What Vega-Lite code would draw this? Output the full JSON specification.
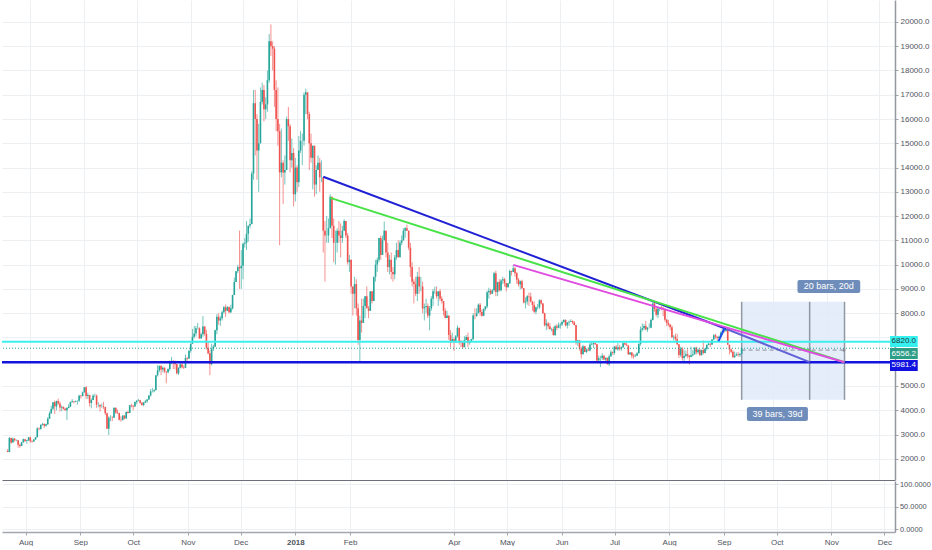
{
  "$schema": "https://vega.github.io/schema/vega-lite/v6.json",
  "description": "BTC daily candles with descending triangle trendlines and date-range tools",
  "padding": 0,
  "spacing": 0,
  "background": "#ffffff",
  "config": {
    "view": {"stroke": null},
    "axis": {
      "labelFont": "Liberation Sans",
      "labelFontSize": 8,
      "labelColor": "#50535e",
      "gridColor": "#edf0f3",
      "domainColor": "#a3a6af",
      "tickColor": "#a3a6af",
      "tickSize": 3,
      "labelPadding": 2,
      "labelOverlap": false,
      "labelBound": false,
      "labelFlush": false
    },
    "text": {"font": "Liberation Sans"}
  },
  "datasets": {
    "candles": [
      {"d":"2017-07-19","o":2320,"h":2400,"l":2270,"c":2280},
      {"d":"2017-07-20","o":2280,"h":2900,"l":2270,"c":2860},
      {"d":"2017-07-21","o":2860,"h":2870,"l":2620,"c":2670},
      {"d":"2017-07-22","o":2670,"h":2880,"l":2670,"c":2830},
      {"d":"2017-07-23","o":2830,"h":2850,"l":2710,"c":2760},
      {"d":"2017-07-24","o":2760,"h":2800,"l":2720,"c":2760},
      {"d":"2017-07-25","o":2760,"h":2770,"l":2460,"c":2580},
      {"d":"2017-07-26","o":2580,"h":2630,"l":2450,"c":2530},
      {"d":"2017-07-27","o":2530,"h":2700,"l":2520,"c":2680},
      {"d":"2017-07-28","o":2680,"h":2830,"l":2670,"c":2810},
      {"d":"2017-07-29","o":2810,"h":2810,"l":2700,"c":2730},
      {"d":"2017-07-30","o":2730,"h":2770,"l":2620,"c":2760},
      {"d":"2017-07-31","o":2760,"h":2900,"l":2740,"c":2880},
      {"d":"2017-08-01","o":2880,"h":2920,"l":2660,"c":2730},
      {"d":"2017-08-02","o":2730,"h":2760,"l":2670,"c":2710},
      {"d":"2017-08-03","o":2710,"h":2820,"l":2700,"c":2800},
      {"d":"2017-08-04","o":2800,"h":2900,"l":2780,"c":2890},
      {"d":"2017-08-05","o":2890,"h":3300,"l":2880,"c":3250},
      {"d":"2017-08-06","o":3250,"h":3290,"l":3170,"c":3230},
      {"d":"2017-08-07","o":3230,"h":3420,"l":3200,"c":3400},
      {"d":"2017-08-08","o":3400,"h":3480,"l":3370,"c":3440},
      {"d":"2017-08-09","o":3440,"h":3450,"l":3270,"c":3360},
      {"d":"2017-08-10","o":3360,"h":3450,"l":3330,"c":3420},
      {"d":"2017-08-11","o":3420,"h":3720,"l":3400,"c":3650},
      {"d":"2017-08-12","o":3650,"h":3950,"l":3640,"c":3870},
      {"d":"2017-08-13","o":3870,"h":4190,"l":3850,"c":4060},
      {"d":"2017-08-14","o":4060,"h":4330,"l":4000,"c":4330},
      {"d":"2017-08-15","o":4330,"h":4400,"l":3850,"c":4160},
      {"d":"2017-08-16","o":4160,"h":4400,"l":4000,"c":4380},
      {"d":"2017-08-17","o":4380,"h":4480,"l":4230,"c":4280},
      {"d":"2017-08-18","o":4280,"h":4370,"l":3950,"c":4110},
      {"d":"2017-08-19","o":4110,"h":4200,"l":3960,"c":4140},
      {"d":"2017-08-20","o":4140,"h":4160,"l":4030,"c":4060},
      {"d":"2017-08-21","o":4060,"h":4100,"l":3980,"c":4000},
      {"d":"2017-08-22","o":4000,"h":4130,"l":3600,"c":4090},
      {"d":"2017-08-23","o":4090,"h":4260,"l":4080,"c":4150},
      {"d":"2017-08-24","o":4150,"h":4360,"l":4130,"c":4340},
      {"d":"2017-08-25","o":4340,"h":4460,"l":4310,"c":4370},
      {"d":"2017-08-26","o":4370,"h":4380,"l":4280,"c":4350},
      {"d":"2017-08-27","o":4350,"h":4400,"l":4330,"c":4380},
      {"d":"2017-08-28","o":4380,"h":4400,"l":4230,"c":4390},
      {"d":"2017-08-29","o":4390,"h":4640,"l":4340,"c":4600},
      {"d":"2017-08-30","o":4600,"h":4630,"l":4480,"c":4580},
      {"d":"2017-08-31","o":4580,"h":4770,"l":4580,"c":4740},
      {"d":"2017-09-01","o":4740,"h":4950,"l":4730,"c":4950},
      {"d":"2017-09-02","o":4950,"h":4990,"l":4470,"c":4590},
      {"d":"2017-09-03","o":4590,"h":4720,"l":4460,"c":4630},
      {"d":"2017-09-04","o":4630,"h":4630,"l":4150,"c":4300},
      {"d":"2017-09-05","o":4300,"h":4490,"l":4080,"c":4420},
      {"d":"2017-09-06","o":4420,"h":4660,"l":4420,"c":4600},
      {"d":"2017-09-07","o":4600,"h":4690,"l":4540,"c":4600},
      {"d":"2017-09-08","o":4600,"h":4650,"l":4100,"c":4230},
      {"d":"2017-09-09","o":4230,"h":4330,"l":4120,"c":4230},
      {"d":"2017-09-10","o":4230,"h":4230,"l":3950,"c":4160},
      {"d":"2017-09-11","o":4160,"h":4280,"l":4100,"c":4160},
      {"d":"2017-09-12","o":4160,"h":4350,"l":4050,"c":4130},
      {"d":"2017-09-13","o":4130,"h":4130,"l":3800,"c":3880},
      {"d":"2017-09-14","o":3880,"h":3900,"l":3240,"c":3240},
      {"d":"2017-09-15","o":3240,"h":3750,"l":2980,"c":3700},
      {"d":"2017-09-16","o":3700,"h":3800,"l":3550,"c":3700},
      {"d":"2017-09-17","o":3700,"h":3760,"l":3550,"c":3690},
      {"d":"2017-09-18","o":3690,"h":4110,"l":3690,"c":4100},
      {"d":"2017-09-19","o":4100,"h":4120,"l":3850,"c":3910},
      {"d":"2017-09-20","o":3910,"h":4030,"l":3850,"c":3880},
      {"d":"2017-09-21","o":3880,"h":3900,"l":3580,"c":3610},
      {"d":"2017-09-22","o":3610,"h":3750,"l":3530,"c":3600},
      {"d":"2017-09-23","o":3600,"h":3810,"l":3570,"c":3780},
      {"d":"2017-09-24","o":3780,"h":3790,"l":3630,"c":3660},
      {"d":"2017-09-25","o":3660,"h":3950,"l":3660,"c":3930},
      {"d":"2017-09-26","o":3930,"h":3980,"l":3860,"c":3890},
      {"d":"2017-09-27","o":3890,"h":4220,"l":3890,"c":4210},
      {"d":"2017-09-28","o":4210,"h":4270,"l":4120,"c":4190},
      {"d":"2017-09-29","o":4190,"h":4210,"l":4000,"c":4160},
      {"d":"2017-09-30","o":4160,"h":4360,"l":4150,"c":4340},
      {"d":"2017-10-01","o":4340,"h":4400,"l":4250,"c":4400},
      {"d":"2017-10-02","o":4400,"h":4470,"l":4370,"c":4410},
      {"d":"2017-10-03","o":4410,"h":4430,"l":4260,"c":4310},
      {"d":"2017-10-04","o":4310,"h":4340,"l":4180,"c":4220},
      {"d":"2017-10-05","o":4220,"h":4350,"l":4160,"c":4320},
      {"d":"2017-10-06","o":4320,"h":4420,"l":4300,"c":4370},
      {"d":"2017-10-07","o":4370,"h":4460,"l":4300,"c":4440},
      {"d":"2017-10-08","o":4440,"h":4620,"l":4430,"c":4610},
      {"d":"2017-10-09","o":4610,"h":4870,"l":4560,"c":4780},
      {"d":"2017-10-10","o":4780,"h":4920,"l":4730,"c":4780},
      {"d":"2017-10-11","o":4780,"h":4870,"l":4740,"c":4830},
      {"d":"2017-10-12","o":4830,"h":5440,"l":4830,"c":5440},
      {"d":"2017-10-13","o":5440,"h":5860,"l":5390,"c":5640},
      {"d":"2017-10-14","o":5640,"h":5840,"l":5570,"c":5830},
      {"d":"2017-10-15","o":5830,"h":5840,"l":5450,"c":5680},
      {"d":"2017-10-16","o":5680,"h":5800,"l":5560,"c":5750},
      {"d":"2017-10-17","o":5750,"h":5770,"l":5530,"c":5600},
      {"d":"2017-10-18","o":5600,"h":5600,"l":5110,"c":5570},
      {"d":"2017-10-19","o":5570,"h":5730,"l":5520,"c":5700},
      {"d":"2017-10-20","o":5700,"h":6050,"l":5620,"c":6010},
      {"d":"2017-10-21","o":6010,"h":6200,"l":5900,"c":6010},
      {"d":"2017-10-22","o":6010,"h":6070,"l":5700,"c":5980},
      {"d":"2017-10-23","o":5980,"h":6050,"l":5680,"c":5900},
      {"d":"2017-10-24","o":5900,"h":5910,"l":5480,"c":5520},
      {"d":"2017-10-25","o":5520,"h":5770,"l":5450,"c":5750},
      {"d":"2017-10-26","o":5750,"h":5990,"l":5720,"c":5890},
      {"d":"2017-10-27","o":5890,"h":6000,"l":5730,"c":5770},
      {"d":"2017-10-28","o":5770,"h":5850,"l":5700,"c":5750},
      {"d":"2017-10-29","o":5750,"h":6300,"l":5740,"c":6150},
      {"d":"2017-10-30","o":6150,"h":6200,"l":6040,"c":6130},
      {"d":"2017-10-31","o":6130,"h":6470,"l":6110,"c":6450},
      {"d":"2017-11-01","o":6450,"h":6750,"l":6370,"c":6740},
      {"d":"2017-11-02","o":6740,"h":7350,"l":6740,"c":7030},
      {"d":"2017-11-03","o":7030,"h":7470,"l":6960,"c":7160},
      {"d":"2017-11-04","o":7160,"h":7480,"l":7040,"c":7380},
      {"d":"2017-11-05","o":7380,"h":7600,"l":7330,"c":7380},
      {"d":"2017-11-06","o":7380,"h":7420,"l":6940,"c":6960},
      {"d":"2017-11-07","o":6960,"h":7200,"l":6950,"c":7130},
      {"d":"2017-11-08","o":7130,"h":7880,"l":7030,"c":7450},
      {"d":"2017-11-09","o":7450,"h":7460,"l":7070,"c":7150},
      {"d":"2017-11-10","o":7150,"h":7320,"l":6500,"c":6580},
      {"d":"2017-11-11","o":6580,"h":6830,"l":6300,"c":6350},
      {"d":"2017-11-12","o":6350,"h":6480,"l":5450,"c":5900},
      {"d":"2017-11-13","o":5900,"h":6740,"l":5850,"c":6540},
      {"d":"2017-11-14","o":6540,"h":6700,"l":6440,"c":6620},
      {"d":"2017-11-15","o":6620,"h":7320,"l":6620,"c":7300},
      {"d":"2017-11-16","o":7300,"h":7960,"l":7130,"c":7850},
      {"d":"2017-11-17","o":7850,"h":8000,"l":7520,"c":7700},
      {"d":"2017-11-18","o":7700,"h":7880,"l":7480,"c":7790},
      {"d":"2017-11-19","o":7790,"h":8110,"l":7700,"c":8040},
      {"d":"2017-11-20","o":8040,"h":8300,"l":7980,"c":8240},
      {"d":"2017-11-21","o":8240,"h":8360,"l":7850,"c":8100},
      {"d":"2017-11-22","o":8100,"h":8300,"l":8100,"c":8250},
      {"d":"2017-11-23","o":8250,"h":8280,"l":8000,"c":8040},
      {"d":"2017-11-24","o":8040,"h":8350,"l":8000,"c":8200},
      {"d":"2017-11-25","o":8200,"h":8760,"l":8150,"c":8750},
      {"d":"2017-11-26","o":8750,"h":9470,"l":8750,"c":9290},
      {"d":"2017-11-27","o":9290,"h":9740,"l":9290,"c":9730},
      {"d":"2017-11-28","o":9730,"h":9990,"l":9650,"c":9900},
      {"d":"2017-11-29","o":9900,"h":11400,"l":9000,"c":9850},
      {"d":"2017-11-30","o":9850,"h":10600,"l":9000,"c":9950},
      {"d":"2017-12-01","o":9950,"h":10900,"l":9400,"c":10860},
      {"d":"2017-12-02","o":10860,"h":11100,"l":10700,"c":10900},
      {"d":"2017-12-03","o":10900,"h":11800,"l":10600,"c":11270},
      {"d":"2017-12-04","o":11270,"h":11620,"l":10950,"c":11600},
      {"d":"2017-12-05","o":11600,"h":11900,"l":11500,"c":11670},
      {"d":"2017-12-06","o":11670,"h":13850,"l":11670,"c":13750},
      {"d":"2017-12-07","o":13750,"h":17200,"l":13500,"c":16650},
      {"d":"2017-12-08","o":16650,"h":17200,"l":14500,"c":16000},
      {"d":"2017-12-09","o":16000,"h":16200,"l":13500,"c":14700},
      {"d":"2017-12-10","o":14700,"h":15800,"l":13000,"c":15000},
      {"d":"2017-12-11","o":15000,"h":17300,"l":15000,"c":16700},
      {"d":"2017-12-12","o":16700,"h":17500,"l":16600,"c":17200},
      {"d":"2017-12-13","o":17200,"h":17400,"l":15900,"c":16400},
      {"d":"2017-12-14","o":16400,"h":16900,"l":16000,"c":16600},
      {"d":"2017-12-15","o":16600,"h":18000,"l":16300,"c":17600},
      {"d":"2017-12-16","o":17600,"h":19500,"l":17500,"c":19200},
      {"d":"2017-12-17","o":19200,"h":19900,"l":18600,"c":19000},
      {"d":"2017-12-18","o":19000,"h":19200,"l":18000,"c":18900},
      {"d":"2017-12-19","o":18900,"h":19000,"l":16500,"c":17200},
      {"d":"2017-12-20","o":17200,"h":17600,"l":15500,"c":16000},
      {"d":"2017-12-21","o":16000,"h":17300,"l":14900,"c":15500},
      {"d":"2017-12-22","o":15500,"h":15800,"l":10800,"c":13800},
      {"d":"2017-12-23","o":13800,"h":15600,"l":13600,"c":14200},
      {"d":"2017-12-24","o":14200,"h":14300,"l":12500,"c":13800},
      {"d":"2017-12-25","o":13800,"h":14500,"l":13300,"c":13900},
      {"d":"2017-12-26","o":13900,"h":16100,"l":13900,"c":16000},
      {"d":"2017-12-27","o":16000,"h":16500,"l":15100,"c":15700},
      {"d":"2017-12-28","o":15700,"h":15800,"l":13800,"c":14300},
      {"d":"2017-12-29","o":14300,"h":15200,"l":14000,"c":14600},
      {"d":"2017-12-30","o":14600,"h":14800,"l":12400,"c":12900},
      {"d":"2017-12-31","o":12900,"h":14400,"l":12600,"c":14000},
      {"d":"2018-01-01","o":14000,"h":14100,"l":13000,"c":13400},
      {"d":"2018-01-02","o":13400,"h":15300,"l":13200,"c":14700},
      {"d":"2018-01-03","o":14700,"h":15500,"l":14600,"c":15100},
      {"d":"2018-01-04","o":15100,"h":15400,"l":14100,"c":15100},
      {"d":"2018-01-05","o":15100,"h":17100,"l":14900,"c":17000},
      {"d":"2018-01-06","o":17000,"h":17250,"l":16200,"c":17100},
      {"d":"2018-01-07","o":17100,"h":17100,"l":16000,"c":16200},
      {"d":"2018-01-08","o":16200,"h":16300,"l":13900,"c":15000},
      {"d":"2018-01-09","o":15000,"h":15400,"l":14200,"c":14400},
      {"d":"2018-01-10","o":14400,"h":14900,"l":13100,"c":14900},
      {"d":"2018-01-11","o":14900,"h":14900,"l":12800,"c":13300},
      {"d":"2018-01-12","o":13300,"h":14100,"l":12900,"c":13900},
      {"d":"2018-01-13","o":13900,"h":14500,"l":13900,"c":14200},
      {"d":"2018-01-14","o":14200,"h":14400,"l":13000,"c":13600},
      {"d":"2018-01-15","o":13600,"h":14300,"l":13400,"c":13600},
      {"d":"2018-01-16","o":13600,"h":13600,"l":10500,"c":11400},
      {"d":"2018-01-17","o":11400,"h":11800,"l":9300,"c":11200},
      {"d":"2018-01-18","o":11200,"h":12000,"l":10900,"c":11200},
      {"d":"2018-01-19","o":11200,"h":11900,"l":10900,"c":11500},
      {"d":"2018-01-20","o":11500,"h":12900,"l":11500,"c":12800},
      {"d":"2018-01-21","o":12800,"h":12800,"l":11100,"c":11600},
      {"d":"2018-01-22","o":11600,"h":11900,"l":10100,"c":10900},
      {"d":"2018-01-23","o":10900,"h":11400,"l":10000,"c":10900},
      {"d":"2018-01-24","o":10900,"h":11500,"l":10500,"c":11400},
      {"d":"2018-01-25","o":11400,"h":11800,"l":10900,"c":11200},
      {"d":"2018-01-26","o":11200,"h":11700,"l":10300,"c":11100},
      {"d":"2018-01-27","o":11100,"h":11600,"l":10900,"c":11400},
      {"d":"2018-01-28","o":11400,"h":11880,"l":11400,"c":11800},
      {"d":"2018-01-29","o":11800,"h":11800,"l":11100,"c":11200},
      {"d":"2018-01-30","o":11200,"h":11300,"l":10000,"c":10100},
      {"d":"2018-01-31","o":10100,"h":10400,"l":9700,"c":10200},
      {"d":"2018-02-01","o":10200,"h":10200,"l":8800,"c":9100},
      {"d":"2018-02-02","o":9100,"h":9100,"l":7900,"c":8800},
      {"d":"2018-02-03","o":8800,"h":9500,"l":8200,"c":9200},
      {"d":"2018-02-04","o":9200,"h":9400,"l":7900,"c":8200},
      {"d":"2018-02-05","o":8200,"h":8400,"l":6700,"c":6900},
      {"d":"2018-02-06","o":6900,"h":7900,"l":6000,"c":7700},
      {"d":"2018-02-07","o":7700,"h":8600,"l":7200,"c":7600},
      {"d":"2018-02-08","o":7600,"h":8600,"l":7600,"c":8300},
      {"d":"2018-02-09","o":8300,"h":8700,"l":7800,"c":8700},
      {"d":"2018-02-10","o":8700,"h":9100,"l":8200,"c":8200},
      {"d":"2018-02-11","o":8200,"h":8300,"l":7800,"c":8100},
      {"d":"2018-02-12","o":8100,"h":8900,"l":8100,"c":8900},
      {"d":"2018-02-13","o":8900,"h":8900,"l":8400,"c":8500},
      {"d":"2018-02-14","o":8500,"h":9500,"l":8500,"c":9500},
      {"d":"2018-02-15","o":9500,"h":10200,"l":9300,"c":10000},
      {"d":"2018-02-16","o":10000,"h":10300,"l":9700,"c":10200},
      {"d":"2018-02-17","o":10200,"h":11100,"l":10100,"c":11100},
      {"d":"2018-02-18","o":11100,"h":11200,"l":10200,"c":10400},
      {"d":"2018-02-19","o":10400,"h":11200,"l":10400,"c":11000},
      {"d":"2018-02-20","o":11000,"h":11780,"l":11000,"c":11400},
      {"d":"2018-02-21","o":11400,"h":11400,"l":10300,"c":10500},
      {"d":"2018-02-22","o":10500,"h":10900,"l":9700,"c":9900},
      {"d":"2018-02-23","o":9900,"h":10400,"l":9600,"c":10200},
      {"d":"2018-02-24","o":10200,"h":10500,"l":9400,"c":9700},
      {"d":"2018-02-25","o":9700,"h":9900,"l":9300,"c":9600},
      {"d":"2018-02-26","o":9600,"h":10400,"l":9400,"c":10300},
      {"d":"2018-02-27","o":10300,"h":10900,"l":10200,"c":10600},
      {"d":"2018-02-28","o":10600,"h":11000,"l":10300,"c":10300},
      {"d":"2018-03-01","o":10300,"h":11000,"l":10300,"c":10900},
      {"d":"2018-03-02","o":10900,"h":11200,"l":10800,"c":11000},
      {"d":"2018-03-03","o":11000,"h":11500,"l":11000,"c":11400},
      {"d":"2018-03-04","o":11400,"h":11550,"l":11100,"c":11500},
      {"d":"2018-03-05","o":11500,"h":11650,"l":11400,"c":11400},
      {"d":"2018-03-06","o":11400,"h":11400,"l":10600,"c":10700},
      {"d":"2018-03-07","o":10700,"h":10900,"l":9500,"c":9900},
      {"d":"2018-03-08","o":9900,"h":10100,"l":9100,"c":9300},
      {"d":"2018-03-09","o":9300,"h":9400,"l":8400,"c":9200},
      {"d":"2018-03-10","o":9200,"h":9500,"l":8700,"c":8800},
      {"d":"2018-03-11","o":8800,"h":9700,"l":8500,"c":9500},
      {"d":"2018-03-12","o":9500,"h":9900,"l":8800,"c":9100},
      {"d":"2018-03-13","o":9100,"h":9500,"l":8900,"c":9100},
      {"d":"2018-03-14","o":9100,"h":9300,"l":8000,"c":8200},
      {"d":"2018-03-15","o":8200,"h":8400,"l":7700,"c":8250},
      {"d":"2018-03-16","o":8250,"h":8600,"l":8000,"c":8300},
      {"d":"2018-03-17","o":8300,"h":8400,"l":7800,"c":7900},
      {"d":"2018-03-18","o":7900,"h":8300,"l":7300,"c":8200},
      {"d":"2018-03-19","o":8200,"h":8700,"l":8100,"c":8600},
      {"d":"2018-03-20","o":8600,"h":9000,"l":8300,"c":8900},
      {"d":"2018-03-21","o":8900,"h":9100,"l":8800,"c":8900},
      {"d":"2018-03-22","o":8900,"h":9100,"l":8600,"c":8700},
      {"d":"2018-03-23","o":8700,"h":8900,"l":8300,"c":8900},
      {"d":"2018-03-24","o":8900,"h":9000,"l":8500,"c":8600},
      {"d":"2018-03-25","o":8600,"h":8700,"l":8400,"c":8500},
      {"d":"2018-03-26","o":8500,"h":8500,"l":7900,"c":8100},
      {"d":"2018-03-27","o":8100,"h":8200,"l":7800,"c":7800},
      {"d":"2018-03-28","o":7800,"h":8100,"l":7800,"c":7900},
      {"d":"2018-03-29","o":7900,"h":7900,"l":6900,"c":7100},
      {"d":"2018-03-30","o":7100,"h":7300,"l":6600,"c":6850},
      {"d":"2018-03-31","o":6850,"h":7200,"l":6800,"c":6930},
      {"d":"2018-04-01","o":6930,"h":7000,"l":6450,"c":6800},
      {"d":"2018-04-02","o":6800,"h":7100,"l":6800,"c":7050},
      {"d":"2018-04-03","o":7050,"h":7500,"l":7000,"c":7400},
      {"d":"2018-04-04","o":7400,"h":7400,"l":6700,"c":6800},
      {"d":"2018-04-05","o":6800,"h":6900,"l":6600,"c":6770},
      {"d":"2018-04-06","o":6770,"h":6850,"l":6530,"c":6600},
      {"d":"2018-04-07","o":6600,"h":7050,"l":6600,"c":6900},
      {"d":"2018-04-08","o":6900,"h":7100,"l":6900,"c":7020},
      {"d":"2018-04-09","o":7020,"h":7200,"l":6600,"c":6770},
      {"d":"2018-04-10","o":6770,"h":6900,"l":6700,"c":6830},
      {"d":"2018-04-11","o":6830,"h":6950,"l":6800,"c":6930},
      {"d":"2018-04-12","o":6930,"h":8000,"l":6900,"c":7900},
      {"d":"2018-04-13","o":7900,"h":8200,"l":7750,"c":7890},
      {"d":"2018-04-14","o":7890,"h":8200,"l":7850,"c":8000},
      {"d":"2018-04-15","o":8000,"h":8400,"l":8000,"c":8350},
      {"d":"2018-04-16","o":8350,"h":8420,"l":7900,"c":8050},
      {"d":"2018-04-17","o":8050,"h":8150,"l":7850,"c":7890},
      {"d":"2018-04-18","o":7890,"h":8200,"l":7880,"c":8170},
      {"d":"2018-04-19","o":8170,"h":8300,"l":8100,"c":8280},
      {"d":"2018-04-20","o":8280,"h":8930,"l":8200,"c":8860},
      {"d":"2018-04-21","o":8860,"h":9050,"l":8600,"c":8920},
      {"d":"2018-04-22","o":8920,"h":9000,"l":8750,"c":8800},
      {"d":"2018-04-23","o":8800,"h":9000,"l":8800,"c":8940},
      {"d":"2018-04-24","o":8940,"h":9700,"l":8900,"c":9650},
      {"d":"2018-04-25","o":9650,"h":9750,"l":8700,"c":8870},
      {"d":"2018-04-26","o":8870,"h":9300,"l":8700,"c":9280},
      {"d":"2018-04-27","o":9280,"h":9400,"l":8900,"c":8940},
      {"d":"2018-04-28","o":8940,"h":9400,"l":8900,"c":9350},
      {"d":"2018-04-29","o":9350,"h":9500,"l":9200,"c":9400},
      {"d":"2018-04-30","o":9400,"h":9450,"l":9100,"c":9240},
      {"d":"2018-05-01","o":9240,"h":9250,"l":8900,"c":9070},
      {"d":"2018-05-02","o":9070,"h":9250,"l":9050,"c":9230},
      {"d":"2018-05-03","o":9230,"h":9800,"l":9200,"c":9740},
      {"d":"2018-05-04","o":9740,"h":9750,"l":9550,"c":9700},
      {"d":"2018-05-05","o":9700,"h":9990,"l":9700,"c":9850},
      {"d":"2018-05-06","o":9850,"h":9900,"l":9500,"c":9650},
      {"d":"2018-05-07","o":9650,"h":9700,"l":9200,"c":9380},
      {"d":"2018-05-08","o":9380,"h":9450,"l":9100,"c":9190},
      {"d":"2018-05-09","o":9190,"h":9350,"l":8980,"c":9320},
      {"d":"2018-05-10","o":9320,"h":9380,"l":9000,"c":9030},
      {"d":"2018-05-11","o":9030,"h":9040,"l":8400,"c":8440},
      {"d":"2018-05-12","o":8440,"h":8650,"l":8200,"c":8480},
      {"d":"2018-05-13","o":8480,"h":8750,"l":8350,"c":8700},
      {"d":"2018-05-14","o":8700,"h":8850,"l":8300,"c":8680},
      {"d":"2018-05-15","o":8680,"h":8850,"l":8450,"c":8480},
      {"d":"2018-05-16","o":8480,"h":8500,"l":8100,"c":8340},
      {"d":"2018-05-17","o":8340,"h":8480,"l":8000,"c":8060},
      {"d":"2018-05-18","o":8060,"h":8270,"l":7950,"c":8240},
      {"d":"2018-05-19","o":8240,"h":8380,"l":8150,"c":8240},
      {"d":"2018-05-20","o":8240,"h":8570,"l":8180,"c":8530},
      {"d":"2018-05-21","o":8530,"h":8560,"l":8350,"c":8400},
      {"d":"2018-05-22","o":8400,"h":8420,"l":7980,"c":8000},
      {"d":"2018-05-23","o":8000,"h":8020,"l":7450,"c":7500},
      {"d":"2018-05-24","o":7500,"h":7750,"l":7300,"c":7580},
      {"d":"2018-05-25","o":7580,"h":7640,"l":7350,"c":7460},
      {"d":"2018-05-26","o":7460,"h":7600,"l":7340,"c":7340},
      {"d":"2018-05-27","o":7340,"h":7400,"l":7250,"c":7350},
      {"d":"2018-05-28","o":7350,"h":7440,"l":7080,"c":7100},
      {"d":"2018-05-29","o":7100,"h":7520,"l":7060,"c":7460},
      {"d":"2018-05-30","o":7460,"h":7560,"l":7300,"c":7400},
      {"d":"2018-05-31","o":7400,"h":7620,"l":7380,"c":7500},
      {"d":"2018-06-01","o":7500,"h":7600,"l":7360,"c":7530},
      {"d":"2018-06-02","o":7530,"h":7700,"l":7470,"c":7640},
      {"d":"2018-06-03","o":7640,"h":7760,"l":7600,"c":7720},
      {"d":"2018-06-04","o":7720,"h":7750,"l":7450,"c":7500},
      {"d":"2018-06-05","o":7500,"h":7640,"l":7370,"c":7620},
      {"d":"2018-06-06","o":7620,"h":7700,"l":7480,"c":7650},
      {"d":"2018-06-07","o":7650,"h":7750,"l":7640,"c":7680},
      {"d":"2018-06-08","o":7680,"h":7700,"l":7560,"c":7620},
      {"d":"2018-06-09","o":7620,"h":7680,"l":7500,"c":7510},
      {"d":"2018-06-10","o":7510,"h":7510,"l":6700,"c":6770},
      {"d":"2018-06-11","o":6770,"h":6900,"l":6650,"c":6880},
      {"d":"2018-06-12","o":6880,"h":6890,"l":6460,"c":6550},
      {"d":"2018-06-13","o":6550,"h":6620,"l":6130,"c":6310},
      {"d":"2018-06-14","o":6310,"h":6700,"l":6300,"c":6640},
      {"d":"2018-06-15","o":6640,"h":6650,"l":6390,"c":6400},
      {"d":"2018-06-16","o":6400,"h":6550,"l":6360,"c":6500},
      {"d":"2018-06-17","o":6500,"h":6580,"l":6450,"c":6460},
      {"d":"2018-06-18","o":6460,"h":6800,"l":6420,"c":6710},
      {"d":"2018-06-19","o":6710,"h":6830,"l":6680,"c":6740},
      {"d":"2018-06-20","o":6740,"h":6800,"l":6560,"c":6770},
      {"d":"2018-06-21","o":6770,"h":6790,"l":6690,"c":6720},
      {"d":"2018-06-22","o":6720,"h":6730,"l":5980,"c":6050},
      {"d":"2018-06-23","o":6050,"h":6250,"l":6050,"c":6150},
      {"d":"2018-06-24","o":6150,"h":6250,"l":5780,"c":6150},
      {"d":"2018-06-25","o":6150,"h":6350,"l":6070,"c":6250},
      {"d":"2018-06-26","o":6250,"h":6280,"l":6060,"c":6090},
      {"d":"2018-06-27","o":6090,"h":6180,"l":6020,"c":6160},
      {"d":"2018-06-28","o":6160,"h":6170,"l":5880,"c":5900},
      {"d":"2018-06-29","o":5900,"h":6300,"l":5820,"c":6220},
      {"d":"2018-06-30","o":6220,"h":6480,"l":6210,"c":6390},
      {"d":"2018-07-01","o":6390,"h":6430,"l":6280,"c":6360},
      {"d":"2018-07-02","o":6360,"h":6650,"l":6290,"c":6620},
      {"d":"2018-07-03","o":6620,"h":6690,"l":6500,"c":6510},
      {"d":"2018-07-04","o":6510,"h":6770,"l":6450,"c":6590},
      {"d":"2018-07-05","o":6590,"h":6690,"l":6460,"c":6530},
      {"d":"2018-07-06","o":6530,"h":6630,"l":6450,"c":6600},
      {"d":"2018-07-07","o":6600,"h":6800,"l":6560,"c":6760},
      {"d":"2018-07-08","o":6760,"h":6800,"l":6680,"c":6710},
      {"d":"2018-07-09","o":6710,"h":6800,"l":6650,"c":6670},
      {"d":"2018-07-10","o":6670,"h":6680,"l":6300,"c":6300},
      {"d":"2018-07-11","o":6300,"h":6400,"l":6300,"c":6380},
      {"d":"2018-07-12","o":6380,"h":6390,"l":6140,"c":6250},
      {"d":"2018-07-13","o":6250,"h":6330,"l":6120,"c":6220},
      {"d":"2018-07-14","o":6220,"h":6320,"l":6200,"c":6250},
      {"d":"2018-07-15","o":6250,"h":6400,"l":6240,"c":6350},
      {"d":"2018-07-16","o":6350,"h":6750,"l":6340,"c":6740},
      {"d":"2018-07-17","o":6740,"h":7450,"l":6660,"c":7320},
      {"d":"2018-07-18","o":7320,"h":7580,"l":7250,"c":7380},
      {"d":"2018-07-19","o":7380,"h":7550,"l":7300,"c":7470},
      {"d":"2018-07-20","o":7470,"h":7680,"l":7300,"c":7330},
      {"d":"2018-07-21","o":7330,"h":7430,"l":7230,"c":7400},
      {"d":"2018-07-22","o":7400,"h":7580,"l":7380,"c":7400},
      {"d":"2018-07-23","o":7400,"h":7780,"l":7380,"c":7720},
      {"d":"2018-07-24","o":7720,"h":8450,"l":7700,"c":8400},
      {"d":"2018-07-25","o":8400,"h":8480,"l":8060,"c":8170},
      {"d":"2018-07-26","o":8170,"h":8300,"l":7860,"c":7940},
      {"d":"2018-07-27","o":7940,"h":8260,"l":7800,"c":8190},
      {"d":"2018-07-28","o":8190,"h":8240,"l":8080,"c":8230},
      {"d":"2018-07-29","o":8230,"h":8290,"l":8120,"c":8210},
      {"d":"2018-07-30","o":8210,"h":8270,"l":7880,"c":8180},
      {"d":"2018-07-31","o":8180,"h":8200,"l":7650,"c":7730},
      {"d":"2018-08-01","o":7730,"h":7760,"l":7470,"c":7600},
      {"d":"2018-08-02","o":7600,"h":7720,"l":7460,"c":7530},
      {"d":"2018-08-03","o":7530,"h":7540,"l":7300,"c":7420},
      {"d":"2018-08-04","o":7420,"h":7500,"l":6970,"c":7010},
      {"d":"2018-08-05","o":7010,"h":7100,"l":6880,"c":7030},
      {"d":"2018-08-06","o":7030,"h":7160,"l":6850,"c":6940},
      {"d":"2018-08-07","o":6940,"h":7150,"l":6680,"c":6720},
      {"d":"2018-08-08","o":6720,"h":6730,"l":6150,"c":6280},
      {"d":"2018-08-09","o":6280,"h":6620,"l":6200,"c":6540},
      {"d":"2018-08-10","o":6540,"h":6600,"l":6050,"c":6150},
      {"d":"2018-08-11","o":6150,"h":6480,"l":6000,"c":6240},
      {"d":"2018-08-12","o":6240,"h":6460,"l":6190,"c":6310},
      {"d":"2018-08-13","o":6310,"h":6550,"l":6140,"c":6250},
      {"d":"2018-08-14","o":6250,"h":6280,"l":5880,"c":6190},
      {"d":"2018-08-15","o":6190,"h":6620,"l":6180,"c":6270},
      {"d":"2018-08-16","o":6270,"h":6480,"l":6220,"c":6310},
      {"d":"2018-08-17","o":6310,"h":6600,"l":6290,"c":6580},
      {"d":"2018-08-18","o":6580,"h":6620,"l":6300,"c":6390},
      {"d":"2018-08-19","o":6390,"h":6550,"l":6320,"c":6490},
      {"d":"2018-08-20","o":6490,"h":6530,"l":6250,"c":6270},
      {"d":"2018-08-21","o":6270,"h":6500,"l":6260,"c":6480},
      {"d":"2018-08-22","o":6480,"h":6880,"l":6300,"c":6360},
      {"d":"2018-08-23","o":6360,"h":6560,"l":6350,"c":6530},
      {"d":"2018-08-24","o":6530,"h":6720,"l":6460,"c":6690},
      {"d":"2018-08-25","o":6690,"h":6800,"l":6680,"c":6740},
      {"d":"2018-08-26","o":6740,"h":6760,"l":6610,"c":6710},
      {"d":"2018-08-27","o":6710,"h":6930,"l":6690,"c":6920},
      {"d":"2018-08-28","o":6920,"h":7140,"l":6890,"c":7090},
      {"d":"2018-08-29","o":7090,"h":7150,"l":6950,"c":7030},
      {"d":"2018-08-30","o":7030,"h":7050,"l":6850,"c":6980},
      {"d":"2018-08-31","o":6980,"h":7080,"l":6920,"c":7030},
      {"d":"2018-09-01","o":7030,"h":7250,"l":7020,"c":7190},
      {"d":"2018-09-02","o":7190,"h":7340,"l":7130,"c":7280},
      {"d":"2018-09-03","o":7280,"h":7340,"l":7200,"c":7260},
      {"d":"2018-09-04","o":7260,"h":7400,"l":7250,"c":7370},
      {"d":"2018-09-05","o":7370,"h":7390,"l":6700,"c":6700},
      {"d":"2018-09-06","o":6700,"h":6700,"l":6300,"c":6500},
      {"d":"2018-09-07","o":6500,"h":6550,"l":6350,"c":6410},
      {"d":"2018-09-08","o":6410,"h":6480,"l":6140,"c":6190},
      {"d":"2018-09-09","o":6190,"h":6420,"l":6150,"c":6250},
      {"d":"2018-09-10","o":6250,"h":6380,"l":6250,"c":6300},
      {"d":"2018-09-11","o":6300,"h":6400,"l":6200,"c":6280},
      {"d":"2018-09-12","o":6280,"h":6340,"l":6200,"c":6330},
      {"d":"2018-09-13","o":6330,"h":6580,"l":6320,"c":6556.2}
    ],
    "lines": [
      {"k":"blue","d":"2018-01-16","p":13620},
      {"k":"blue","d":"2018-09-04","p":7360},
      {"k":"slate","d":"2018-09-04","p":7360},
      {"k":"slate","d":"2018-10-22","p":5981.4},
      {"k":"green","d":"2018-01-20","p":12750},
      {"k":"green","d":"2018-11-11","p":5981.4},
      {"k":"magenta","d":"2018-05-05","p":9990},
      {"k":"magenta","d":"2018-11-11","p":5981.4},
      {"k":"pen","d":"2018-08-30T18:00:00Z","p":6850},
      {"k":"pen","d":"2018-09-03T06:00:00Z","p":7390}
    ],
    "levels": [
      {"k":"cyan","p":6820},
      {"k":"last","p":6556.2},
      {"k":"support","p":5981.4}
    ],
    "ranges": [
      {"a":"2018-09-13","b":"2018-10-22","lo":4430,"hi":8470},
      {"a":"2018-10-22","b":"2018-11-11","lo":4430,"hi":8470}
    ],
    "edges": [
      {"d":"2018-09-13","lo":4430,"hi":8470},
      {"d":"2018-10-22","lo":4430,"hi":8470},
      {"d":"2018-11-11","lo":4430,"hi":8470}
    ],
    "arrow": [
      {"d":"2018-09-13","p":6480,"head":false},
      {"d":"2018-10-22","p":6480,"head":true},
      {"d":"2018-11-11","p":6480,"head":true}
    ],
    "tags": [
      {"t":"20 bars, 20d","a":"2018-10-15","b":"2018-11-20","m":"2018-11-02","lo":8832,"hi":9368,"p":9100},
      {"t":"39 bars, 39d","a":"2018-09-16","b":"2018-10-21","m":"2018-10-03T12:00:00Z","lo":3558,"hi":4135,"p":3846}
    ],
    "prices": [
      {"t":"6820.0","lo":6607,"hi":7060,"p":6834},
      {"t":"6556.2","lo":6112,"hi":6566,"p":6339},
      {"t":"5981.4","lo":5618,"hi":6071,"p":5845}
    ]
  },
  "vconcat": [
    {
      "width": 893,
      "height": 480,
      "resolve": {"scale": {"color": "independent"}},
      "layer": [
        {
          "data": {"name": "ranges"},
          "mark": {"type": "rect", "color": "#dfeaf8", "opacity": 0.85},
          "encoding": {
            "x": {
              "field": "a", "type": "temporal", "title": null,
              "scale": {"type": "utc", "domain": [{"year": 2017, "month": 7, "date": 18, "hours": 15, "utc": true}, {"year": 2018, "month": 12, "date": 7, "hours": 2, "utc": true}]},
              "axis": {
                "values": [
                  {"year": 2017, "month": 8, "date": 1, "utc": true},
                  {"year": 2017, "month": 9, "date": 1, "utc": true},
                  {"year": 2017, "month": 10, "date": 1, "utc": true},
                  {"year": 2017, "month": 11, "date": 1, "utc": true},
                  {"year": 2017, "month": 12, "date": 1, "utc": true},
                  {"year": 2018, "month": 1, "date": 1, "utc": true},
                  {"year": 2018, "month": 2, "date": 1, "utc": true},
                  {"year": 2018, "month": 4, "date": 1, "utc": true},
                  {"year": 2018, "month": 5, "date": 1, "utc": true},
                  {"year": 2018, "month": 6, "date": 1, "utc": true},
                  {"year": 2018, "month": 7, "date": 1, "utc": true},
                  {"year": 2018, "month": 8, "date": 1, "utc": true},
                  {"year": 2018, "month": 9, "date": 1, "utc": true},
                  {"year": 2018, "month": 10, "date": 1, "utc": true},
                  {"year": 2018, "month": 11, "date": 1, "utc": true},
                  {"year": 2018, "month": 12, "date": 1, "utc": true}
                ],
                "grid": true,
                "labels": false,
                "ticks": false,
                "domain": true,
                "domainColor": "#6d707a",
                "zindex": 0
              }
            },
            "x2": {"field": "b"},
            "y": {
              "field": "lo", "type": "quantitative", "title": null,
              "scale": {"domain": [1127, 20904], "nice": false, "zero": false},
              "axis": {"orient": "right", "values": [2000, 3000, 4000, 5000, 6000, 7000, 8000, 9000, 10000, 11000, 12000, 13000, 14000, 15000, 16000, 17000, 18000, 19000, 20000], "labelExpr": "datum.value == 6000 || datum.value == 7000 ? '' : datum.label", "format": ".1f", "grid": true, "labelOverlap": false, "domainColor": "#9598a1", "domainWidth": 1.5, "zindex": 0}
            },
            "y2": {"field": "hi"}
          }
        },
        {
          "data": {"name": "edges"},
          "mark": {"type": "rule", "color": "#8f99a6", "strokeWidth": 1.5},
          "encoding": {
            "x": {"field": "d", "type": "temporal", "title": null},
            "y": {
              "field": "lo", "type": "quantitative", "title": null,
              "axis": {"orient": "right", "values": [2000, 3000, 4000, 5000, 6000, 7000, 8000, 9000, 10000, 11000, 12000, 13000, 14000, 15000, 16000, 17000, 18000, 19000, 20000], "labelExpr": "datum.value == 6000 || datum.value == 7000 ? '' : datum.label", "format": ".1f", "grid": true, "labelOverlap": false, "domainColor": "#9598a1", "domainWidth": 1.5, "zindex": 0}
            },
            "y2": {"field": "hi"}
          }
        },
        {
          "data": {"name": "arrow"},
          "mark": {"type": "line", "color": "#8a8d96", "strokeWidth": 1, "strokeDash": [4, 3]},
          "encoding": {
            "x": {"field": "d", "type": "temporal", "title": null},
            "y": {
              "field": "p", "type": "quantitative", "title": null,
              "axis": {"orient": "right", "values": [2000, 3000, 4000, 5000, 6000, 7000, 8000, 9000, 10000, 11000, 12000, 13000, 14000, 15000, 16000, 17000, 18000, 19000, 20000], "labelExpr": "datum.value == 6000 || datum.value == 7000 ? '' : datum.label", "format": ".1f", "grid": true, "labelOverlap": false, "domainColor": "#9598a1", "domainWidth": 1.5, "zindex": 0}
            }
          }
        },
        {
          "data": {"name": "arrow"},
          "transform": [{"filter": "datum.head"}],
          "mark": {"type": "point", "shape": "triangle-right", "filled": true, "color": "#8a8d96", "size": 14, "opacity": 1},
          "encoding": {
            "x": {"field": "d", "type": "temporal", "title": null},
            "y": {
              "field": "p", "type": "quantitative", "title": null,
              "axis": {"orient": "right", "values": [2000, 3000, 4000, 5000, 6000, 7000, 8000, 9000, 10000, 11000, 12000, 13000, 14000, 15000, 16000, 17000, 18000, 19000, 20000], "labelExpr": "datum.value == 6000 || datum.value == 7000 ? '' : datum.label", "format": ".1f", "grid": true, "labelOverlap": false, "domainColor": "#9598a1", "domainWidth": 1.5, "zindex": 0}
            }
          }
        },
        {
          "data": {"name": "candles"},
          "mark": {"type": "rule", "strokeWidth": 1, "opacity": 0.65},
          "encoding": {
            "x": {"field": "d", "type": "temporal", "title": null},
            "y": {
              "field": "l", "type": "quantitative", "title": null,
              "axis": {"orient": "right", "values": [2000, 3000, 4000, 5000, 6000, 7000, 8000, 9000, 10000, 11000, 12000, 13000, 14000, 15000, 16000, 17000, 18000, 19000, 20000], "labelExpr": "datum.value == 6000 || datum.value == 7000 ? '' : datum.label", "format": ".1f", "grid": true, "labelOverlap": false, "domainColor": "#9598a1", "domainWidth": 1.5, "zindex": 0}
            },
            "y2": {"field": "h"},
            "color": {"condition": {"test": "datum.c >= datum.o", "value": "#26a69a"}, "value": "#ef5350"}
          }
        },
        {
          "data": {"name": "candles"},
          "mark": {"type": "bar", "size": 1.6},
          "encoding": {
            "x": {"field": "d", "type": "temporal", "title": null},
            "y": {
              "field": "o", "type": "quantitative", "title": null,
              "axis": {"orient": "right", "values": [2000, 3000, 4000, 5000, 6000, 7000, 8000, 9000, 10000, 11000, 12000, 13000, 14000, 15000, 16000, 17000, 18000, 19000, 20000], "labelExpr": "datum.value == 6000 || datum.value == 7000 ? '' : datum.label", "format": ".1f", "grid": true, "labelOverlap": false, "domainColor": "#9598a1", "domainWidth": 1.5, "zindex": 0}
            },
            "y2": {"field": "c"},
            "color": {"condition": {"test": "datum.c >= datum.o", "value": "#26a69a"}, "value": "#ef5350"}
          }
        },
        {
          "data": {"name": "levels"},
          "transform": [{"filter": "datum.k == 'cyan'"}],
          "mark": {"type": "rule", "color": "#3cefef", "strokeWidth": 2},
          "encoding": {
            "y": {
              "field": "p", "type": "quantitative", "title": null,
              "axis": {"orient": "right", "values": [2000, 3000, 4000, 5000, 6000, 7000, 8000, 9000, 10000, 11000, 12000, 13000, 14000, 15000, 16000, 17000, 18000, 19000, 20000], "labelExpr": "datum.value == 6000 || datum.value == 7000 ? '' : datum.label", "format": ".1f", "grid": true, "labelOverlap": false, "domainColor": "#9598a1", "domainWidth": 1.5, "zindex": 0}
            }
          }
        },
        {
          "data": {"name": "levels"},
          "transform": [{"filter": "datum.k == 'last'"}],
          "mark": {"type": "rule", "color": "#26a69a", "strokeWidth": 1, "strokeDash": [1, 2]},
          "encoding": {
            "y": {
              "field": "p", "type": "quantitative", "title": null,
              "axis": {"orient": "right", "values": [2000, 3000, 4000, 5000, 6000, 7000, 8000, 9000, 10000, 11000, 12000, 13000, 14000, 15000, 16000, 17000, 18000, 19000, 20000], "labelExpr": "datum.value == 6000 || datum.value == 7000 ? '' : datum.label", "format": ".1f", "grid": true, "labelOverlap": false, "domainColor": "#9598a1", "domainWidth": 1.5, "zindex": 0}
            }
          }
        },
        {
          "data": {"name": "levels"},
          "transform": [{"filter": "datum.k == 'support'"}],
          "mark": {"type": "rule", "color": "#1414dc", "strokeWidth": 2.5},
          "encoding": {
            "y": {
              "field": "p", "type": "quantitative", "title": null,
              "axis": {"orient": "right", "values": [2000, 3000, 4000, 5000, 6000, 7000, 8000, 9000, 10000, 11000, 12000, 13000, 14000, 15000, 16000, 17000, 18000, 19000, 20000], "labelExpr": "datum.value == 6000 || datum.value == 7000 ? '' : datum.label", "format": ".1f", "grid": true, "labelOverlap": false, "domainColor": "#9598a1", "domainWidth": 1.5, "zindex": 0}
            }
          }
        },
        {
          "data": {"name": "lines"},
          "mark": {"type": "line", "strokeWidth": 2},
          "encoding": {
            "x": {"field": "d", "type": "temporal", "title": null},
            "y": {
              "field": "p", "type": "quantitative", "title": null,
              "axis": {"orient": "right", "values": [2000, 3000, 4000, 5000, 6000, 7000, 8000, 9000, 10000, 11000, 12000, 13000, 14000, 15000, 16000, 17000, 18000, 19000, 20000], "labelExpr": "datum.value == 6000 || datum.value == 7000 ? '' : datum.label", "format": ".1f", "grid": true, "labelOverlap": false, "domainColor": "#9598a1", "domainWidth": 1.5, "zindex": 0}
            },
            "detail": {"field": "k"},
            "color": {
              "field": "k", "type": "nominal", "legend": null,
              "scale": {"domain": ["green", "magenta", "blue", "slate", "pen"], "range": ["#46e246", "#e04ce0", "#2020d4", "#6262d6", "#1f4ef0"]}
            }
          }
        },
        {
          "data": {"name": "tags"},
          "mark": {"type": "rect", "color": "#6f8dba", "cornerRadius": 2},
          "encoding": {
            "x": {"field": "a", "type": "temporal", "title": null},
            "x2": {"field": "b"},
            "y": {
              "field": "lo", "type": "quantitative", "title": null,
              "axis": {"orient": "right", "values": [2000, 3000, 4000, 5000, 6000, 7000, 8000, 9000, 10000, 11000, 12000, 13000, 14000, 15000, 16000, 17000, 18000, 19000, 20000], "labelExpr": "datum.value == 6000 || datum.value == 7000 ? '' : datum.label", "format": ".1f", "grid": true, "labelOverlap": false, "domainColor": "#9598a1", "domainWidth": 1.5, "zindex": 0}
            },
            "y2": {"field": "hi"}
          }
        },
        {
          "data": {"name": "tags"},
          "mark": {"type": "text", "color": "#ffffff", "fontSize": 9, "align": "center", "baseline": "middle"},
          "encoding": {
            "x": {"field": "m", "type": "temporal", "title": null},
            "y": {
              "field": "p", "type": "quantitative", "title": null,
              "axis": {"orient": "right", "values": [2000, 3000, 4000, 5000, 6000, 7000, 8000, 9000, 10000, 11000, 12000, 13000, 14000, 15000, 16000, 17000, 18000, 19000, 20000], "labelExpr": "datum.value == 6000 || datum.value == 7000 ? '' : datum.label", "format": ".1f", "grid": true, "labelOverlap": false, "domainColor": "#9598a1", "domainWidth": 1.5, "zindex": 0}
            },
            "text": {"field": "t"}
          }
        },
        {
          "data": {"name": "prices"},
          "mark": {"type": "rect"},
          "encoding": {
            "x": {"datum": {"year": 2018, "month": 12, "date": 7, "hours": 2, "utc": true}, "type": "temporal"},
            "x2": {"datum": {"year": 2018, "month": 12, "date": 23, "utc": true}},
            "y": {
              "field": "lo", "type": "quantitative", "title": null,
              "axis": {"orient": "right", "values": [2000, 3000, 4000, 5000, 6000, 7000, 8000, 9000, 10000, 11000, 12000, 13000, 14000, 15000, 16000, 17000, 18000, 19000, 20000], "labelExpr": "datum.value == 6000 || datum.value == 7000 ? '' : datum.label", "format": ".1f", "grid": true, "labelOverlap": false, "domainColor": "#9598a1", "domainWidth": 1.5, "zindex": 0}
            },
            "y2": {"field": "hi"},
            "color": {
              "field": "t", "type": "nominal", "legend": null,
              "scale": {"domain": ["6820.0", "6556.2", "5981.4"], "range": ["#36f0f0", "#2e9e89", "#1212e0"]}
            }
          }
        },
        {
          "data": {"name": "prices"},
          "mark": {"type": "text", "fontSize": 8, "align": "center", "baseline": "middle"},
          "encoding": {
            "x": {"datum": {"year": 2018, "month": 12, "date": 15, "utc": true}, "type": "temporal"},
            "y": {
              "field": "p", "type": "quantitative", "title": null,
              "axis": {"orient": "right", "values": [2000, 3000, 4000, 5000, 6000, 7000, 8000, 9000, 10000, 11000, 12000, 13000, 14000, 15000, 16000, 17000, 18000, 19000, 20000], "labelExpr": "datum.value == 6000 || datum.value == 7000 ? '' : datum.label", "format": ".1f", "grid": true, "labelOverlap": false, "domainColor": "#9598a1", "domainWidth": 1.5, "zindex": 0}
            },
            "text": {"field": "t"},
            "color": {"condition": {"test": "datum.t == '6820.0'", "value": "#1e3a3a"}, "value": "#ffffff"}
          }
        }
      ]
    },
    {
      "width": 893,
      "height": 51,
      "data": {"values": [{"d": "2018-01-01", "v": 50}]},
      "mark": {"type": "point", "opacity": 0},
      "encoding": {
        "x": {
          "field": "d", "type": "temporal", "title": null,
          "scale": {"type": "utc", "domain": [{"year": 2017, "month": 7, "date": 18, "hours": 15, "utc": true}, {"year": 2018, "month": 12, "date": 7, "hours": 2, "utc": true}]},
          "axis": {
            "values": [
              {"year": 2017, "month": 8, "date": 1, "utc": true},
              {"year": 2017, "month": 9, "date": 1, "utc": true},
              {"year": 2017, "month": 10, "date": 1, "utc": true},
              {"year": 2017, "month": 11, "date": 1, "utc": true},
              {"year": 2017, "month": 12, "date": 1, "utc": true},
              {"year": 2018, "month": 1, "date": 1, "utc": true},
              {"year": 2018, "month": 2, "date": 1, "utc": true},
              {"year": 2018, "month": 4, "date": 1, "utc": true},
              {"year": 2018, "month": 5, "date": 1, "utc": true},
              {"year": 2018, "month": 6, "date": 1, "utc": true},
              {"year": 2018, "month": 7, "date": 1, "utc": true},
              {"year": 2018, "month": 8, "date": 1, "utc": true},
              {"year": 2018, "month": 9, "date": 1, "utc": true},
              {"year": 2018, "month": 10, "date": 1, "utc": true},
              {"year": 2018, "month": 11, "date": 1, "utc": true},
              {"year": 2018, "month": 12, "date": 1, "utc": true}
            ],
            "labelExpr": "utcmonth(datum.value) == 0 ? utcFormat(datum.value, '%Y') : utcFormat(datum.value, '%b')",
            "labelFontWeight": {"condition": {"test": "utcmonth(datum.value) == 0", "value": "bold"}, "value": "normal"},
            "grid": true,
            "labelPadding": 3,
            "domainWidth": 1.5,
            "zindex": 0
          }
        },
        "y": {
          "field": "v", "type": "quantitative", "title": null,
          "scale": {"domain": [-6, 106.7], "nice": false, "zero": false},
          "axis": {
            "orient": "right",
            "values": [0, 50, 100],
            "format": ".4f",
            "labelFontSize": 7.4,
            "labelPadding": 1.5,
            "grid": true,
            "domainColor": "#9598a1",
            "domainWidth": 1.5,
            "zindex": 0
          }
        }
      }
    }
  ]
}
